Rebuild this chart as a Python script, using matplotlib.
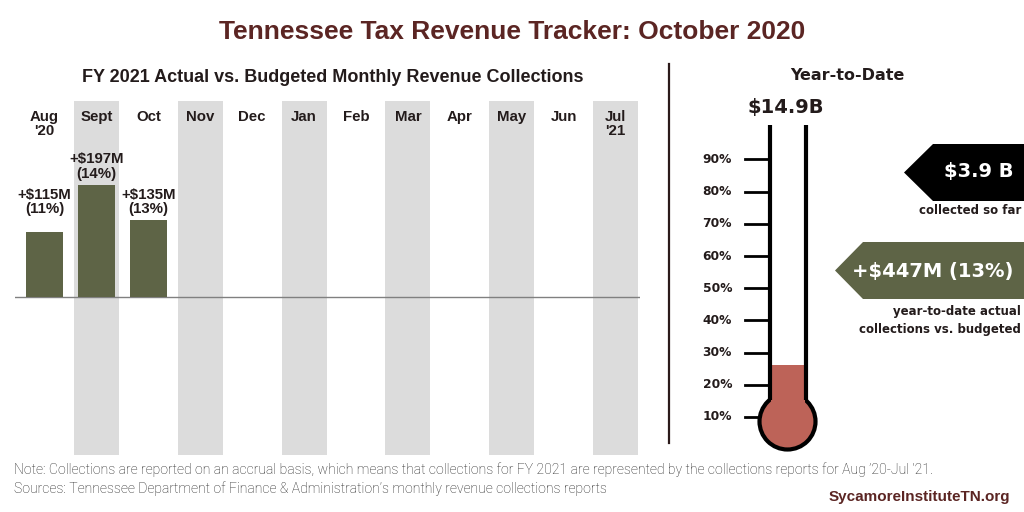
import matplotlib
matplotlib.use("Agg")
import matplotlib.pyplot as plt
from matplotlib.patches import Polygon, Ellipse, Rectangle
from matplotlib import font_manager

# data
months = ["Aug\n'20", "Sept", "Oct", "Nov", "Dec", "Jan", "Feb", "Mar", "Apr", "May", "Jun", "Jul\n'21"]
over_budget = [115, 197, 135]          # $M above budget, per month
over_pct = [11, 14, 13]                # % above budget
ytd_budget = 14.9                      # $B full year
ytd_collected = 3.9                    # $B so far
ytd_over = 447                         # $M
ytd_over_pct = 13
thermo_ticks = [10, 20, 30, 40, 50, 60, 70, 80, 90]

avail = {f.name for f in font_manager.fontManager.ttflist}
narrow = 'Liberation Sans Narrow' if 'Liberation Sans Narrow' in avail else 'Roboto'
sans = 'Liberation Sans'
wide = 'DejaVu Sans'

maroon = '#5b2523'
dark = '#231b1b'
olive = '#5e6446'
red = '#bd6358'
band = '#dcdcdc'

fig = plt.figure(figsize=(10.24, 5.12), dpi=100)
W, H = 1024, 512

def px_axes(l, t, r, b):
    return fig.add_axes([l / W, 1 - b / H, (r - l) / W, (b - t) / H])

# overlay in pixel coords
ov = px_axes(0, 0, W, H)
ov.set_xlim(0, W)
ov.set_ylim(H, 0)
ov.axis('off')

ov.text(512, 32, "Tennessee Tax Revenue Tracker: October 2020", ha='center', va='center',
        fontsize=19, fontweight='bold', color=maroon, family=sans)
ov.text(333, 77, "FY 2021 Actual vs. Budgeted Monthly Revenue Collections", ha='center', va='center',
        fontsize=13, fontweight='bold', color=dark, family=sans)
ov.plot([669, 669], [64, 443], color='#2b1a1a', lw=1.6)

ov.text(847, 75, "Year-to-Date", ha='center', va='center', fontsize=11.5, fontweight='bold',
        color=dark, family=wide)
ov.text(786, 107, "$%.1fB" % ytd_budget, ha='center', va='center', fontsize=14, fontweight='bold',
        color=dark, family=wide)

# arrow tags
ov.add_patch(Polygon([(1024, 144), (933, 144), (904, 172.5), (933, 201), (1024, 201)],
                     closed=True, fc='black', ec='none'))
ov.text(979, 172, "$%.1f B" % ytd_collected, ha='center', va='center', fontsize=14,
        fontweight='bold', color='white', family=wide)
ov.text(1021, 211, "collected so far", ha='right', va='center', fontsize=8.5,
        fontweight='bold', color=dark, family=wide)

ov.add_patch(Polygon([(1024, 242), (863, 242), (835, 270.5), (863, 299), (1024, 299)],
                     closed=True, fc=olive, ec='none'))
ov.text(933, 271, "+$%dM (%d%%)" % (ytd_over, ytd_over_pct), ha='center', va='center',
        fontsize=14, fontweight='bold', color='white', family=wide)
ov.text(1021, 312, "year-to-date actual", ha='right', va='center', fontsize=8.5,
        fontweight='bold', color=dark, family=wide)
ov.text(1021, 330, "collections vs. budgeted", ha='right', va='center', fontsize=8.5,
        fontweight='bold', color=dark, family=wide)

ov.text(14, 470, "Note: Collections are reported on an accrual basis, which means that collections for FY 2021 "
        "are represented by the collections reports for Aug \u201920-Jul \u201921.",
        ha='left', va='center', fontsize=10.1, color='#222222', family=narrow, fontweight='light')
ov.text(14, 489, "Sources: Tennessee Department of Finance & Administration\u2019s monthly revenue collections reports",
        ha='left', va='center', fontsize=10.1, color='#222222', family=narrow, fontweight='light')
ov.text(1010, 497, "SycamoreInstituteTN.org", ha='right', va='center', fontsize=11,
        fontweight='bold', color=maroon, family=sans)

# monthly bars
ax = px_axes(15, 101, 640, 455)
ax.set_xlim(-0.568, 11.47)
ax.set_ylim(-278, 344.8)
ax.axis('off')
for i in range(1, len(months), 2):
    ax.axvspan(i - 0.434, i + 0.434, color=band, lw=0, zorder=0)
ax.axhline(0, color='#808080', lw=1, zorder=1)
xs = list(range(len(over_budget)))
ax.bar(xs, over_budget, width=0.713, color=olive, zorder=2)
label_pad = [11, 3, 3]
for i, (v, p) in enumerate(zip(over_budget, over_pct)):
    ax.annotate("+$%dM\n(%d%%)" % (v, p), (i, v), xytext=(0, label_pad[i]), textcoords='offset points',
                ha='center', va='bottom', fontsize=10.8, fontweight='bold', color=dark,
                family=sans, linespacing=1.05)
for i, m in enumerate(months):
    ax.text(i, 0.975, m, transform=ax.get_xaxis_transform(), ha='center', va='top',
            fontsize=10.8, fontweight='bold', color=dark, family=sans, linespacing=1.0)

# thermometer, y in percent of annual budget
th = px_axes(690, 110, 860, 470)
th.set_xlim(690, 860)
ppx = 3.22
th.set_ylim((449.2 - 470) / ppx, (449.2 - 110) / ppx)
th.axis('off')
cx, r = 787.5, 28
bulb_y = 8.6
tube_l, tube_r = 769.5, 806
level = ytd_collected / ytd_budget * 100
th.add_patch(Ellipse((cx, bulb_y), 2 * r, 2 * r / ppx, fc=red, ec='black', lw=3, zorder=2))
th.add_patch(Rectangle((tube_l + 1.5, bulb_y), tube_r - tube_l - 3, level - bulb_y,
                       fc=red, ec='none', zorder=3))
join = bulb_y + ((r ** 2 - (cx - tube_l) ** 2) ** 0.5) / ppx
th.plot([tube_l, tube_l], [join, 100.6], color='black', lw=3, zorder=4, solid_capstyle='butt')
th.plot([tube_r, tube_r], [join, 100.6], color='black', lw=3, zorder=4, solid_capstyle='butt')
for t in thermo_ticks:
    th.plot([745, tube_l - 1.5], [t, t], color='black', lw=2, zorder=1)
    th.text(732, t, "%d%%" % t, ha='right', va='center', fontsize=8.8, fontweight='bold',
            color=dark, family=wide)

fig.savefig("out.png", dpi=100)
